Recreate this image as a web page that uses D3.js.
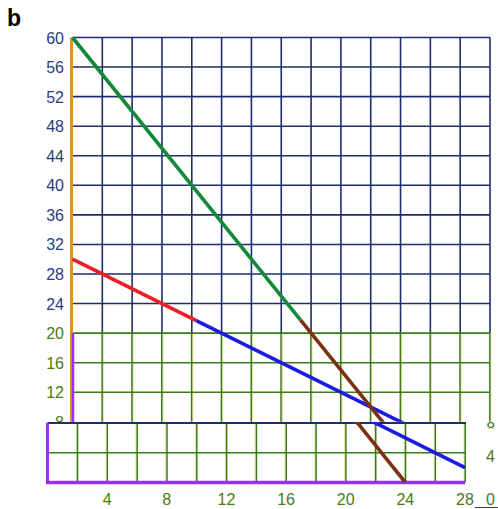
<!DOCTYPE html>
<html><head><meta charset="utf-8">
<script src="https://cdn.jsdelivr.net/npm/d3@7"></script>
<style>html,body{margin:0;padding:0;background:#fff;}svg{display:block;font-family:"Liberation Sans",Arial,sans-serif;}</style>
</head><body>
<script>
// ---- data ----
const panelLabel = "b";
const yTicksTop = [60,56,52,48,44,40,36,32,28,24];
const yTicksLow = [20,16,12,8];
const xTicks = [4,8,12,16,20,24,28];
const stripYTicks = [8,4,0];
const xGrid = d3.range(2, 29, 2);
// line 1: y = 60 - 2.5x  (green then brown)
const greenSeg = [[0,60],[15.3,21.75]];
const brownSeg = [[15.3,21.75],[24,0]];
// line 2: y = 30 - x (red then blue)
const redSeg = [[0,30],[8.3,21.7]];
const blueSeg = [[8.3,21.7],[28,2]];
const greenStub = [[20.6,8.5],[20.85,7.875]];
const redStub = [[21.6,8.4],[22.2,7.8]];

const W = 498, H = 509;
const C = {navy:"#1e2d6e", grn:"#3a7a1c", yel:"#d4d64a", orange:"#e8901c", purple:"#9b30f0",
  green:"#13893a", red:"#ee1c25", blue:"#1b1be2", brown:"#7b3212", lblNavy:"#2c3b7c", lblGreen:"#4b7a12"};

const svg = d3.select("body").append("svg").attr("width", W).attr("height", H);
svg.append("rect").attr("width", W).attr("height", H).attr("fill", "#fff");

// main scales
const x = d3.scaleLinear().domain([0,28]).range([72.5,490]);
const y = d3.scaleLinear().domain([8,60]).range([421.8,37.5]);
// strip scales
const xs = d3.scaleLinear().domain([0,28]).range([47.5,465]);
const ys = d3.scaleLinear().domain([0,8]).range([482.5,423]);

svg.append("text").attr("x",7).attr("y",26).attr("font-size",23).attr("font-weight","bold")
  .attr("fill","#000").text(panelLabel);

const g = svg.append("g");
// left y labels (main)
g.selectAll(".yl").data(yTicksTop.concat(yTicksLow)).join("text")
  .attr("x",64).attr("y",d=>y(d)+6).attr("text-anchor","end").attr("font-size",16)
  .attr("fill",d=>d>=24?C.lblNavy:C.lblGreen).text(d=>d);

// main grid: vertical lines
xGrid.forEach(v=>{
  g.append("line").attr("x1",x(v)).attr("x2",x(v)).attr("y1",y(60)).attr("y2",y(20))
    .attr("stroke",C.navy).attr("stroke-width",1.6);
  g.append("line").attr("x1",x(v)+1).attr("x2",x(v)+1).attr("y1",y(20)).attr("y2",y(8))
    .attr("stroke",C.yel).attr("stroke-width",0.8).attr("opacity",0.8);
  g.append("line").attr("x1",x(v)-0.2).attr("x2",x(v)-0.2).attr("y1",y(20)).attr("y2",y(8))
    .attr("stroke",C.grn).attr("stroke-width",1.5);
});
// main horizontal
d3.range(24,61,4).forEach(v=>{
  g.append("line").attr("x1",x(0)).attr("x2",x(28)).attr("y1",y(v)).attr("y2",y(v))
    .attr("stroke",C.navy).attr("stroke-width",1.6);
});
[12,16,20].forEach(v=>{
  g.append("line").attr("x1",x(0)).attr("x2",x(28)).attr("y1",y(v)).attr("y2",y(v))
    .attr("stroke",C.grn).attr("stroke-width",1.6);
});
// left axis
g.append("line").attr("x1",x(0)-1).attr("x2",x(0)-1).attr("y1",y(60)).attr("y2",y(8))
  .attr("stroke",C.orange).attr("stroke-width",3);
g.append("line").attr("x1",x(0)+0.5).attr("x2",x(0)+0.5).attr("y1",y(20)).attr("y2",y(8))
  .attr("stroke",C.purple).attr("stroke-width",2.5);

// main lines, clipped
svg.append("clipPath").attr("id","mainClip").append("rect")
  .attr("x",x(0)-5).attr("y",y(60)-5).attr("width",x(28)-x(0)+10).attr("height",y(8)-y(60)+5);
const lm = d3.line().x(d=>x(d[0])).y(d=>y(d[1]));
const ml = svg.append("g").attr("clip-path","url(#mainClip)");
[[greenSeg,C.green],[redSeg,C.red],[blueSeg,C.blue],[brownSeg,C.brown]].forEach(([d,c])=>{
  ml.append("path").attr("d",lm(d)).attr("fill","none").attr("stroke",c).attr("stroke-width",3.6);
});

// right label 8 (top loop only visible)
svg.append("clipPath").attr("id","r8").append("rect").attr("x",480).attr("y",415).attr("width",18).attr("height",13.3);
svg.append("text").attr("x",490.8).attr("y",ys(8)+10.8).attr("text-anchor","middle").attr("font-size",16)
  .attr("fill",C.lblGreen).attr("clip-path","url(#r8)").text(stripYTicks[0]);

// strip
const s = svg.append("g");
s.append("rect").attr("x",xs(0)).attr("y",ys(8)).attr("width",xs(28)-xs(0)).attr("height",ys(0)-ys(8)).attr("fill","#fff");
xGrid.forEach(v=>{
  s.append("line").attr("x1",xs(v)-1).attr("x2",xs(v)-1).attr("y1",ys(8)).attr("y2",ys(0))
    .attr("stroke",C.yel).attr("stroke-width",0.8).attr("opacity",0.8);
  s.append("line").attr("x1",xs(v)+0.2).attr("x2",xs(v)+0.2).attr("y1",ys(8)).attr("y2",ys(0))
    .attr("stroke",C.grn).attr("stroke-width",1.5);
});
s.append("line").attr("x1",xs(0)).attr("x2",xs(28)).attr("y1",ys(4)).attr("y2",ys(4))
  .attr("stroke",C.grn).attr("stroke-width",1.6);
s.append("line").attr("x1",xs(0)).attr("x2",xs(28)+1).attr("y1",ys(8)).attr("y2",ys(8))
  .attr("stroke",C.navy).attr("stroke-width",1.8);
svg.append("clipPath").attr("id","stripClip").append("rect")
  .attr("x",xs(0)).attr("y",ys(8)-1).attr("width",xs(28)-xs(0)+3).attr("height",ys(0)-ys(8)+1);
const ls = d3.line().x(d=>xs(d[0])).y(d=>ys(d[1]));
const sl = svg.append("g").attr("clip-path","url(#stripClip)");
[[greenStub,C.green],[redStub,C.red],[blueSeg,C.blue],[brownSeg,C.brown]].forEach(([d,c])=>{
  sl.append("path").attr("d",ls(d)).attr("fill","none").attr("stroke",c).attr("stroke-width",3.6);
});
s.append("line").attr("x1",xs(0)).attr("x2",xs(0)).attr("y1",ys(8)).attr("y2",ys(0))
  .attr("stroke",C.purple).attr("stroke-width",3);
s.append("line").attr("x1",xs(0)-1.5).attr("x2",xs(28)).attr("y1",ys(0)).attr("y2",ys(0))
  .attr("stroke",C.purple).attr("stroke-width",3.5);

// x labels
svg.selectAll(".xl").data(xTicks).join("text").attr("x",d=>xs(d)).attr("y",505)
  .attr("text-anchor","middle").attr("font-size",16).attr("fill",C.lblGreen).text(d=>d);
// right labels 4, 0
svg.append("text").attr("x",490.5).attr("y",ys(4)+9).attr("text-anchor","middle").attr("font-size",16)
  .attr("fill",C.lblGreen).text(stripYTicks[1]);
svg.append("text").attr("x",490.5).attr("y",505).attr("text-anchor","middle").attr("font-size",16)
  .attr("fill",C.lblGreen).text(stripYTicks[2]);
svg.append("line").attr("x1",475).attr("x2",498).attr("y1",507.5).attr("y2",507.5)
  .attr("stroke","#444").attr("stroke-width",1);
</script>
</body></html>
